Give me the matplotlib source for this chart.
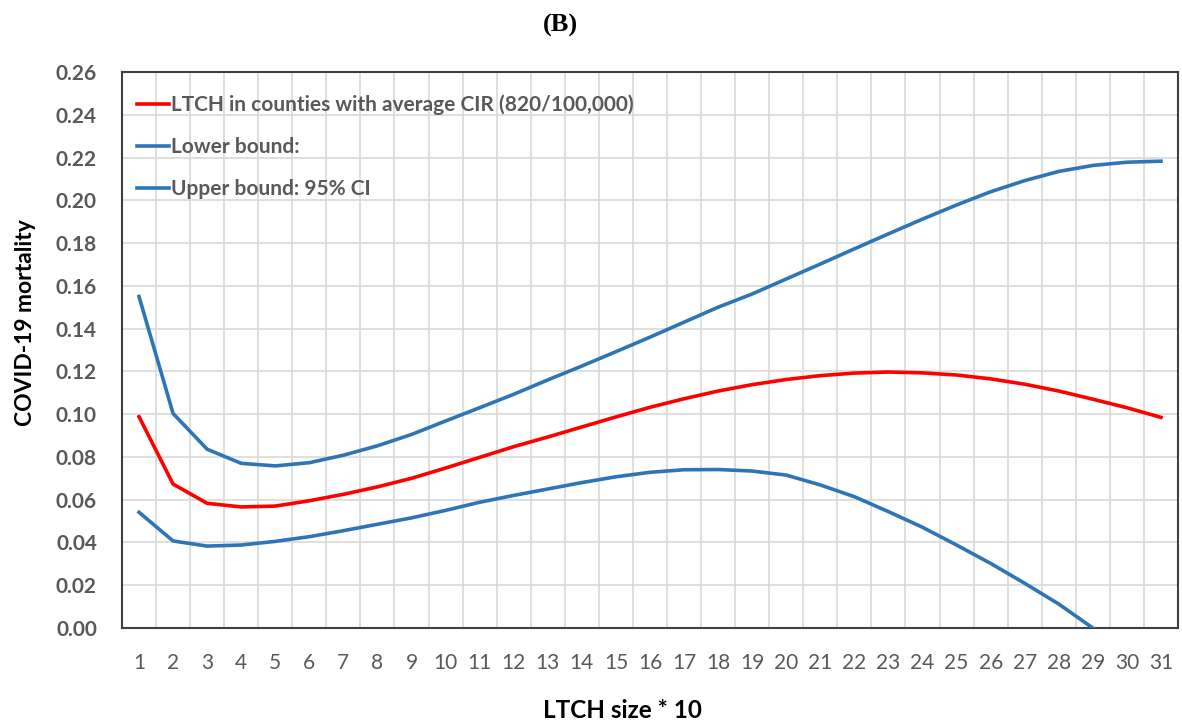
import numpy as np
import matplotlib.pyplot as plt

# LTCH size categories (x 10)
sizes = list(range(1, 32))

# Estimated mortality for LTCH in counties with average CIR
mortality = [0.0988, 0.0673, 0.0583, 0.0566, 0.0570, 0.0595, 0.0625, 0.0660, 0.0700, 0.0748,
             0.0798, 0.0848, 0.0893, 0.0940, 0.0987, 0.1032, 0.1072, 0.1108, 0.1138, 0.1162,
             0.1180, 0.1192, 0.1197, 0.1193, 0.1183, 0.1165, 0.1140, 0.1108, 0.1070, 0.1030,
             0.0985]

# upper curve of the interval
upper = [0.1550, 0.1003, 0.0836, 0.0770, 0.0758, 0.0773, 0.0808, 0.0852, 0.0905, 0.0968,
         0.1030, 0.1093, 0.1160, 0.1225, 0.1292, 0.1360, 0.1430, 0.1500, 0.1562, 0.1632,
         0.1702, 0.1773, 0.1843, 0.1912, 0.1978, 0.2040, 0.2092, 0.2135, 0.2163, 0.2178,
         0.2183]

# lower curve of the interval
lower = [0.0541, 0.0407, 0.0383, 0.0388, 0.0405, 0.0427, 0.0455, 0.0485, 0.0515, 0.0550,
         0.0588, 0.0620, 0.0650, 0.0680, 0.0707, 0.0728, 0.0740, 0.0741, 0.0734, 0.0715,
         0.0669, 0.0614, 0.0544, 0.0471, 0.0388, 0.0302, 0.0209, 0.0112, 0.0000, -0.0120,
         -0.0250]

legend_labels = ['LTCH in counties with average CIR (820/100,000)',
                 'Lower bound:',
                 'Upper bound: 95% CI']

gray = '#595959'
blue = '#2e75b6'

plt.rcParams['font.family'] = ['Lato', 'DejaVu Sans']

fig = plt.figure(figsize=(11.82, 7.22), dpi=100)
ax = fig.add_axes([0.1032, 0.1302, 0.8934, 0.7701])

ax.plot(sizes, mortality, color='#ff0000', lw=2.6, label=legend_labels[0], zorder=3)
ax.plot(sizes, upper, color=blue, lw=2.6, label=legend_labels[1], zorder=3)
ax.plot(sizes, lower, color=blue, lw=2.6, label=legend_labels[2], zorder=3)

ax.set_xlim(0.5, 31.5)
ax.set_ylim(0, 0.26)
ax.set_yticks(np.arange(0, 0.261, 0.02))
ax.set_yticklabels([f'{v:.2f}' for v in np.arange(0, 0.261, 0.02)])
ax.set_xticks(sizes)
ax.set_xticks(np.arange(0.5, 31.6, 1), minor=True)

ax.grid(True, axis='y', which='major', color='#d9d9d9', lw=1.2, zorder=0)
ax.grid(True, axis='x', which='minor', color='#d9d9d9', lw=1.2, zorder=0)
ax.tick_params(axis='both', which='both', length=0)
ax.tick_params(axis='y', pad=18, labelsize=15, labelcolor=gray)
ax.tick_params(axis='x', pad=18, labelsize=15, labelcolor=gray)
for t in ax.get_yticklabels():
    t.set_fontweight('bold')

for s in ax.spines.values():
    s.set_color('#404040')
    s.set_linewidth(1.5)

ax.set_ylabel('COVID-19 mortality', fontsize=16.5, fontweight='bold')
ax.set_xlabel('LTCH size * 10', fontsize=17.5, fontweight='bold')
ax.yaxis.set_label_coords(-0.081, 0.55)
ax.xaxis.set_label_coords(0.474, -0.128)

leg = ax.legend(loc='upper left', bbox_to_anchor=(0.0, 0.985), frameon=False,
                handlelength=1.55, handletextpad=0.12, labelspacing=1.05,
                borderaxespad=0.3, prop={'size': 15, 'weight': 'bold'})
for t in leg.get_texts():
    t.set_color(gray)

fig.text(0.474, 0.965, '(B)', ha='center', va='center', fontsize=19,
         fontweight='bold', family=['Liberation Serif', 'DejaVu Serif'])

fig.savefig('out.png', dpi=100)
